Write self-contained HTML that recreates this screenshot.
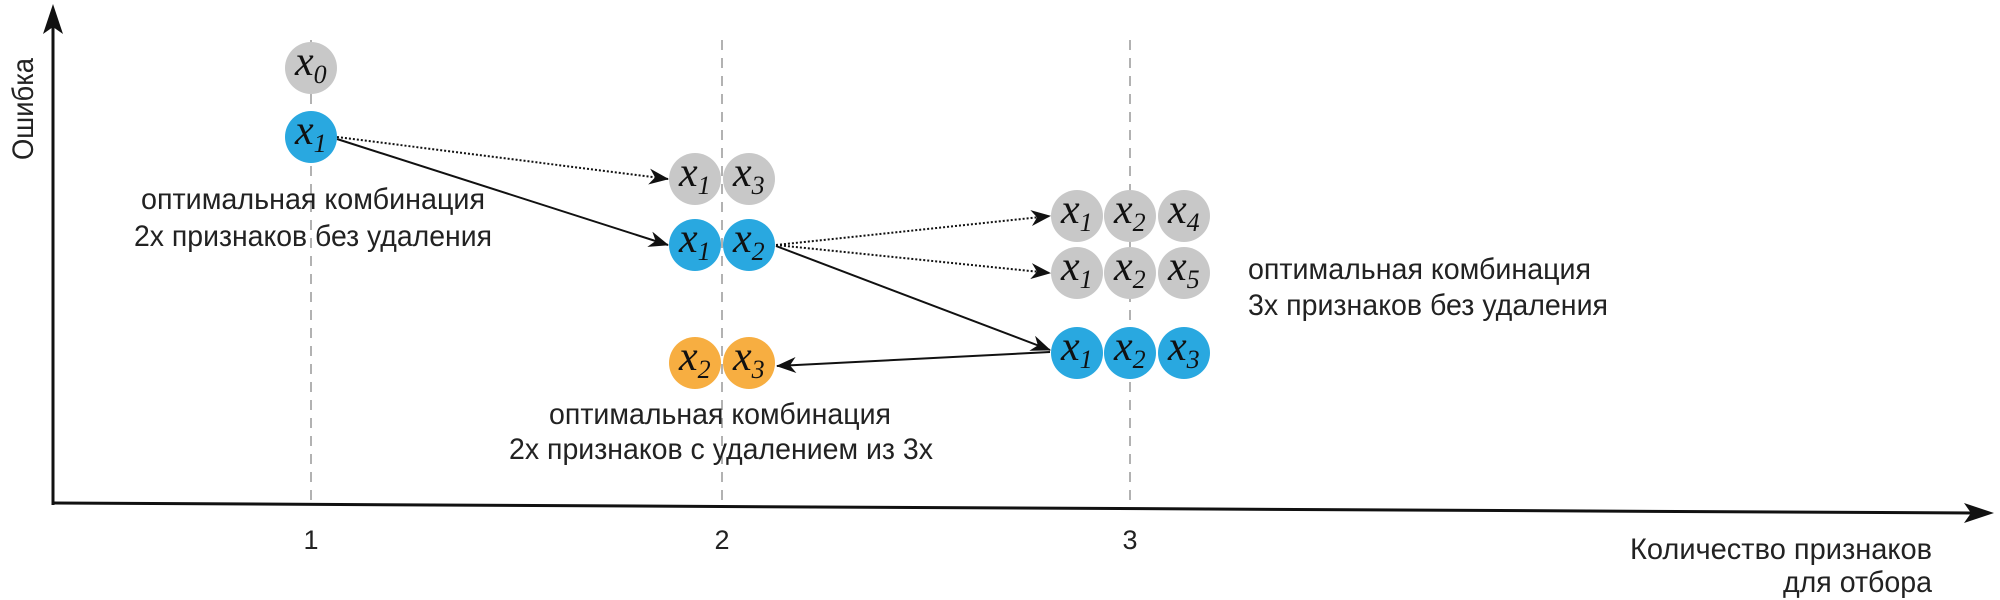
<!DOCTYPE html>
<html><head><meta charset="utf-8"><style>
html,body{margin:0;padding:0;background:#fff;}
svg{display:block;}
.t{font-family:"Liberation Sans",sans-serif;font-size:30px;fill:#222;}
.n{font-family:"Liberation Serif",serif;font-style:italic;font-size:42px;fill:#111;}
.s{font-size:26px;}
</style></head><body>
<svg width="2000" height="600" viewBox="0 0 2000 600" xmlns="http://www.w3.org/2000/svg">
<defs>
<marker id="ah" viewBox="0 0 20 16" refX="19" refY="8" markerWidth="20" markerHeight="16" markerUnits="userSpaceOnUse" orient="auto">
<path d="M0,0 L20,8 L0,16 L6,8 Z" fill="#111"/></marker>
</defs>
<g stroke="#999" stroke-width="1.5" stroke-dasharray="10,8">
<line x1="311" y1="40" x2="311" y2="505"/>
<line x1="722" y1="40" x2="722" y2="506"/>
<line x1="1130" y1="40" x2="1130" y2="509"/>
</g>
<line x1="53" y1="505" x2="53" y2="14" stroke="#111" stroke-width="3"/>
<path d="M53,4 L43,34 L53,27 L63,34 Z" fill="#111"/>
<line x1="53" y1="503" x2="1975" y2="513" stroke="#111" stroke-width="3"/>
<path d="M1994,513 L1964,503 L1971,513 L1964,523 Z" fill="#111"/>
<text class="t" transform="translate(33,109) rotate(-90)" text-anchor="middle" textLength="102" lengthAdjust="spacingAndGlyphs">Ошибка</text>
<text class="t" x="311" y="549" text-anchor="middle" style="font-size:27px">1</text>
<text class="t" x="722" y="549" text-anchor="middle" style="font-size:27px">2</text>
<text class="t" x="1130" y="549" text-anchor="middle" style="font-size:27px">3</text>
<text class="t" x="1630" y="559" textLength="302" lengthAdjust="spacingAndGlyphs">Количество признаков</text>
<text class="t" x="1783" y="592" textLength="149" lengthAdjust="spacingAndGlyphs">для отбора</text>
<g stroke="#111" stroke-width="2" fill="none">
<line x1="337" y1="137" x2="668" y2="179" stroke-dasharray="2,2" marker-end="url(#ah)"/>
<line x1="337" y1="139" x2="668" y2="245" marker-end="url(#ah)"/>
<line x1="776" y1="245" x2="1050" y2="216" stroke-dasharray="2,2" marker-end="url(#ah)"/>
<line x1="776" y1="245" x2="1050" y2="273" stroke-dasharray="2,2" marker-end="url(#ah)"/>
<line x1="776" y1="246" x2="1050" y2="350" marker-end="url(#ah)"/>
<line x1="1050" y1="352" x2="777" y2="366" marker-end="url(#ah)"/>
</g>
<g>
<circle cx="311" cy="68" r="26" fill="#c8c8c8"/>
<circle cx="311" cy="137" r="26" fill="#29a8e0"/>
<circle cx="695" cy="179" r="26" fill="#c8c8c8"/><circle cx="749" cy="179" r="26" fill="#c8c8c8"/>
<circle cx="695" cy="245" r="26" fill="#29a8e0"/><circle cx="749" cy="245" r="26" fill="#29a8e0"/>
<circle cx="695" cy="363" r="26" fill="#f7ae41"/><circle cx="749" cy="363" r="26" fill="#f7ae41"/>
<circle cx="1077" cy="216" r="26" fill="#c8c8c8"/><circle cx="1130" cy="216" r="26" fill="#c8c8c8"/><circle cx="1184" cy="216" r="26" fill="#c8c8c8"/>
<circle cx="1077" cy="273" r="26" fill="#c8c8c8"/><circle cx="1130" cy="273" r="26" fill="#c8c8c8"/><circle cx="1184" cy="273" r="26" fill="#c8c8c8"/>
<circle cx="1077" cy="353" r="26" fill="#29a8e0"/><circle cx="1130" cy="353" r="26" fill="#29a8e0"/><circle cx="1184" cy="353" r="26" fill="#29a8e0"/>
</g>
<g class="n">
<text x="295" y="75">x<tspan class="s" dy="8">0</tspan></text>
<text x="295" y="144">x<tspan class="s" dy="8">1</tspan></text>
<text x="679" y="186">x<tspan class="s" dy="8">1</tspan></text><text x="733" y="186">x<tspan class="s" dy="8">3</tspan></text>
<text x="679" y="252">x<tspan class="s" dy="8">1</tspan></text><text x="733" y="252">x<tspan class="s" dy="8">2</tspan></text>
<text x="679" y="370">x<tspan class="s" dy="8">2</tspan></text><text x="733" y="370">x<tspan class="s" dy="8">3</tspan></text>
<text x="1061" y="223">x<tspan class="s" dy="8">1</tspan></text><text x="1114" y="223">x<tspan class="s" dy="8">2</tspan></text><text x="1168" y="223">x<tspan class="s" dy="8">4</tspan></text>
<text x="1061" y="280">x<tspan class="s" dy="8">1</tspan></text><text x="1114" y="280">x<tspan class="s" dy="8">2</tspan></text><text x="1168" y="280">x<tspan class="s" dy="8">5</tspan></text>
<text x="1061" y="360">x<tspan class="s" dy="8">1</tspan></text><text x="1114" y="360">x<tspan class="s" dy="8">2</tspan></text><text x="1168" y="360">x<tspan class="s" dy="8">3</tspan></text>
</g>
<text class="t" x="141" y="209" textLength="344" lengthAdjust="spacingAndGlyphs">оптимальная комбинация</text>
<text class="t" x="134" y="246" textLength="358" lengthAdjust="spacingAndGlyphs">2х признаков без удаления</text>
<text class="t" x="1248" y="279" textLength="343" lengthAdjust="spacingAndGlyphs">оптимальная комбинация</text>
<text class="t" x="1248" y="315" textLength="360" lengthAdjust="spacingAndGlyphs">3х признаков без удаления</text>
<text class="t" x="549" y="424" textLength="342" lengthAdjust="spacingAndGlyphs">оптимальная комбинация</text>
<text class="t" x="509" y="459" textLength="424" lengthAdjust="spacingAndGlyphs">2х признаков с удалением из 3х</text>
</svg>
</body></html>
